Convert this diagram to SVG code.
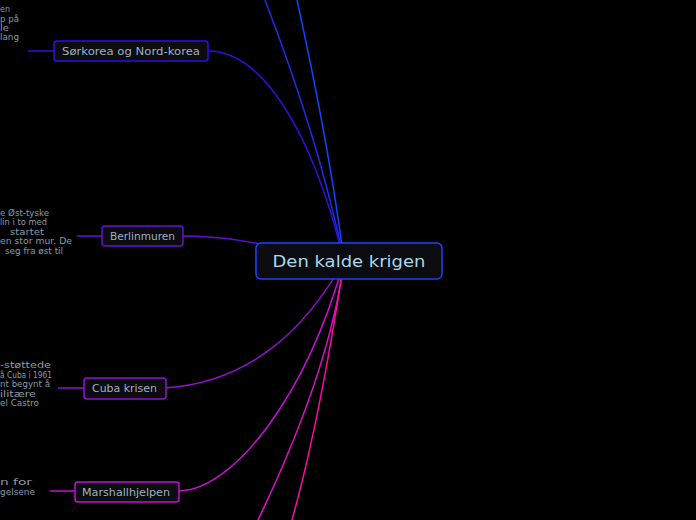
<svg xmlns="http://www.w3.org/2000/svg" width="696" height="520" viewBox="0 0 696 520">
<style>
.conn{fill:none;stroke-width:1.5}
.box{fill:#0b0b10;stroke-width:1.5}
.lbl{font-family:"DejaVu Sans","Liberation Sans",sans-serif;font-size:10px;fill:#9eb2c0;text-anchor:middle}
.main{font-family:"DejaVu Sans","Liberation Sans",sans-serif;font-size:15px;fill:#a6d8f0;text-anchor:middle}
.note{font-family:"DejaVu Sans","Liberation Sans",sans-serif;font-size:8px;fill:#8a9aa8}
</style>
<rect width="696" height="520" fill="#000"/>
<g id="connectors">
<path class="conn" stroke="#1a2ff0" d="M265,0 Q320,143 344,261"/>
<path class="conn" stroke="#0d45ff" d="M297,0 Q330,150 344,261"/>
<path class="conn" stroke="#2e10e0" d="M208,51 C262,51 312,130 344,261"/>
<path class="conn" stroke="#6410d4" d="M183,236 C222,236 245,240 344,261"/>
<path class="conn" stroke="#9210d4" d="M165,388 C250,382 305,330 344,261"/>
<path class="conn" stroke="#c410d4" d="M179,491 C232,490 305,400 344,261"/>
<path class="conn" stroke="#e010c8" d="M344,261 Q330,370 258,520"/>
<path class="conn" stroke="#ff0aa8" d="M344,261 Q320,420 292,520"/>
<path class="conn" stroke="#2e10e0" d="M28,51 H54"/>
<path class="conn" stroke="#6410d4" d="M77,236 H102"/>
<path class="conn" stroke="#9210d4" d="M58,388 H84"/>
<path class="conn" stroke="#c410d4" d="M50,491 H75"/>
</g>
<g id="center">
<rect class="box" x="256" y="243" width="186" height="36" rx="5" stroke="#1446ff"/>
<text class="main" x="349" y="266.5" textLength="153" lengthAdjust="spacingAndGlyphs">Den kalde krigen</text>
</g>
<g id="sorkorea">
<rect class="box" x="54" y="41" width="154" height="20" rx="3" stroke="#2e10e0"/>
<text class="lbl" x="131" y="54.5" textLength="138" lengthAdjust="spacingAndGlyphs">Sørkorea og Nord-korea</text>
<text class="note" x="0" y="12" textLength="10" lengthAdjust="spacingAndGlyphs">en</text>
<text class="note" x="0" y="21.5" textLength="19" lengthAdjust="spacingAndGlyphs">p på</text>
<text class="note" x="0" y="30.5" textLength="9" lengthAdjust="spacingAndGlyphs">le</text>
<text class="note" x="0" y="40" textLength="19" lengthAdjust="spacingAndGlyphs">lang</text>
</g>
<g id="berlinmuren">
<rect class="box" x="102" y="226" width="81" height="20" rx="3" stroke="#6410d4"/>
<text class="lbl" x="142.5" y="239.5" textLength="65" lengthAdjust="spacingAndGlyphs">Berlinmuren</text>
<text class="note" x="0" y="215.5" textLength="49" lengthAdjust="spacingAndGlyphs">e Øst-tyske</text>
<text class="note" x="0" y="225" textLength="47" lengthAdjust="spacingAndGlyphs">lin i to med</text>
<text class="note" x="10" y="234.5" textLength="34" lengthAdjust="spacingAndGlyphs">startet</text>
<text class="note" x="0" y="244" textLength="72" lengthAdjust="spacingAndGlyphs">en stor mur. De</text>
<text class="note" x="5" y="253.5" textLength="58" lengthAdjust="spacingAndGlyphs">seg fra øst til</text>
</g>
<g id="cubakrisen">
<rect class="box" x="84" y="378" width="82" height="21" rx="3" stroke="#9210d4"/>
<text class="lbl" x="124.5" y="392" textLength="65" lengthAdjust="spacingAndGlyphs">Cuba krisen</text>
<text class="note" x="0" y="368" textLength="51" lengthAdjust="spacingAndGlyphs">-støttede</text>
<text class="note" x="0" y="377.5" textLength="52" lengthAdjust="spacingAndGlyphs">å Cuba i 1961</text>
<text class="note" x="0" y="387" textLength="50" lengthAdjust="spacingAndGlyphs">nt begynt å</text>
<text class="note" x="0" y="396.5" textLength="36" lengthAdjust="spacingAndGlyphs">ilitære</text>
<text class="note" x="0" y="406" textLength="39" lengthAdjust="spacingAndGlyphs">el Castro</text>
</g>
<g id="marshallhjelpen">
<rect class="box" x="75" y="482" width="104" height="20" rx="3" stroke="#c410d4"/>
<text class="lbl" x="126" y="495.5" textLength="88" lengthAdjust="spacingAndGlyphs">Marshallhjelpen</text>
<text class="note" x="0" y="485" textLength="32" lengthAdjust="spacingAndGlyphs">n for</text>
<text class="note" x="0" y="495" textLength="35" lengthAdjust="spacingAndGlyphs">gelsene</text>
</g>
</svg>
